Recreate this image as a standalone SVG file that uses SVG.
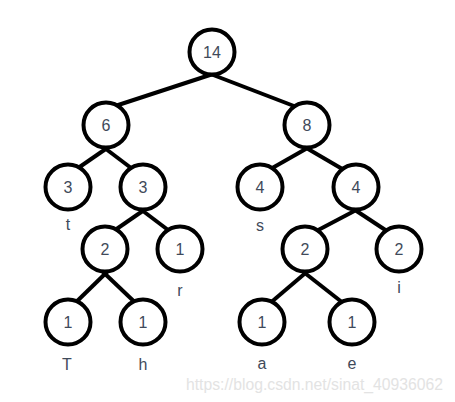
<svg xmlns="http://www.w3.org/2000/svg" width="455" height="402" viewBox="0 0 455 402">
<style>
.n circle{fill:#fff;stroke:#000;stroke-width:4}
.n text{font-family:"Liberation Sans",Arial,sans-serif;font-size:16px;fill:#3f4a5a;text-anchor:middle}
.lbl{font-family:"Liberation Sans",Arial,sans-serif;font-size:16px;fill:#3f4a5a;text-anchor:middle}
#edges line{stroke:#000;stroke-width:4;stroke-linecap:butt}
.wm{font-family:"Liberation Sans",Arial,sans-serif;font-size:16px;fill:#e3e3e3}
</style>
<rect width="455" height="402" fill="#fff"/>
<g id="edges">
<line x1="216" y1="73" x2="106" y2="109"/>
<line x1="208" y1="73" x2="307" y2="111"/>
<line x1="110" y1="146" x2="68" y2="175"/>
<line x1="102" y1="146" x2="143" y2="177"/>
<line x1="147" y1="208" x2="105" y2="237"/>
<line x1="139" y1="208" x2="180" y2="239"/>
<line x1="109" y1="270" x2="68" y2="310"/>
<line x1="101" y1="270" x2="143" y2="310"/>
<line x1="311" y1="146" x2="260" y2="175"/>
<line x1="303" y1="146" x2="356" y2="177"/>
<line x1="360" y1="208" x2="305" y2="237"/>
<line x1="352" y1="208" x2="399" y2="239"/>
<line x1="309" y1="270" x2="262" y2="310"/>
<line x1="301" y1="270" x2="352" y2="310"/>
</g>
<g id="n14" class="n"><circle cx="212" cy="52" r="22.5"/><text x="212" y="58">14</text></g>
<g id="n6" class="n"><circle cx="106" cy="125" r="22.5"/><text x="106" y="131">6</text></g>
<g id="n8" class="n"><circle cx="307" cy="125" r="22.5"/><text x="307" y="131">8</text></g>
<g id="n3t" class="n"><circle cx="68" cy="187" r="22.5"/><text x="68" y="193">3</text></g>
<g id="n3" class="n"><circle cx="143" cy="187" r="22.5"/><text x="143" y="193">3</text></g>
<g id="n4s" class="n"><circle cx="260" cy="187" r="22.5"/><text x="260" y="193">4</text></g>
<g id="n4" class="n"><circle cx="356" cy="187" r="22.5"/><text x="356" y="193">4</text></g>
<g id="n2l" class="n"><circle cx="105" cy="249" r="22.5"/><text x="105" y="255">2</text></g>
<g id="n1r" class="n"><circle cx="180" cy="249" r="22.5"/><text x="180" y="255">1</text></g>
<g id="n2r" class="n"><circle cx="305" cy="249" r="22.5"/><text x="305" y="255">2</text></g>
<g id="n2i" class="n"><circle cx="399" cy="249" r="22.5"/><text x="399" y="255">2</text></g>
<g id="n1T" class="n"><circle cx="68" cy="322" r="22.5"/><text x="68" y="328">1</text></g>
<g id="n1h" class="n"><circle cx="143" cy="322" r="22.5"/><text x="143" y="328">1</text></g>
<g id="n1a" class="n"><circle cx="262" cy="322" r="22.5"/><text x="262" y="328">1</text></g>
<g id="n1e" class="n"><circle cx="352" cy="322" r="22.5"/><text x="352" y="328">1</text></g>
<g id="labels">
<text class="lbl" x="68" y="230">t</text>
<text class="lbl" x="260" y="231">s</text>
<text class="lbl" x="180" y="296">r</text>
<text class="lbl" x="399" y="293">i</text>
<text class="lbl" x="67" y="370">T</text>
<text class="lbl" x="143" y="370">h</text>
<text class="lbl" x="262" y="369">a</text>
<text class="lbl" x="352" y="369">e</text>
</g>
<text class="wm" x="186" y="390" textLength="257" lengthAdjust="spacingAndGlyphs">https://blog.csdn.net/sinat_40936062</text>
</svg>
